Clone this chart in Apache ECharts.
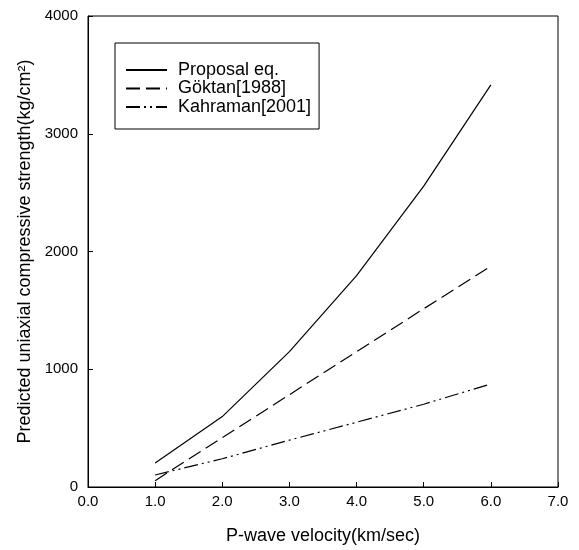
<!DOCTYPE html>
<html>
<head>
<meta charset="utf-8">
<script src="https://cdn.jsdelivr.net/npm/echarts@6/dist/echarts.min.js"></script>
<style>
  html, body { margin: 0; padding: 0; background: #fff; }
  #chart { width: 579px; height: 550px; }
</style>
</head>
<body>
<div id="chart"></div>
<script>
// P-wave velocity (km/sec)
const velocity = [1.0, 2.0, 3.0, 4.0, 5.0, 6.0];
// predicted UCS (kg/cm2)
const proposal = [203, 598, 1150, 1795, 2555, 3415];
const goktan = [54, 419, 784, 1149, 1514, 1875];
const kahraman = [102, 240, 398, 550, 703, 875];

const seriesNames = ['Proposal eq.', 'Göktan[1988]', 'Kahraman[2001]'];
const dashes = ['solid', [14, 6], [14, 4, 2, 4, 2, 4]];

const font = '"Liberation Sans", Arial, sans-serif';

function pairs(ys) {
  return velocity.map((v, i) => [v, ys[i]]);
}

const chart = echarts.init(document.getElementById('chart'), null, { renderer: 'canvas' });

const option = {
  backgroundColor: '#fff',
  animation: false,
  textStyle: { fontFamily: font, color: '#000' },
  grid: {
    left: 88, right: 21, top: 16, bottom: 62,
    show: true, borderColor: '#000', borderWidth: 1,
    containLabel: false
  },
  legend: {
    left: 115, top: 43,
    orient: 'vertical',
    itemWidth: 41, itemHeight: 17, itemGap: 0.5,
    padding: [18, 8, 13, 10],
    borderColor: '#000', borderWidth: 1,
    backgroundColor: '#fff',
    // hide the marker circle, keep only the line sample
    itemStyle: { opacity: 0, color: 'rgba(0,0,0,0)', borderWidth: 0 },
    textStyle: { fontFamily: font, fontSize: 18, color: '#000', padding: [0, 0, 0, 6] },
    data: seriesNames
  },
  xAxis: {
    type: 'value',
    min: 0, max: 7, interval: 1,
    name: 'P-wave velocity(km/sec)',
    nameLocation: 'middle',
    nameGap: 40,
    nameTextStyle: { fontFamily: font, fontSize: 18, color: '#000' },
    axisLine: { lineStyle: { color: '#000', width: 1 } },
    axisTick: { inside: true, length: 5, lineStyle: { color: '#000' } },
    axisLabel: { fontFamily: font, fontSize: 15, color: '#000', margin: 7,
      formatter: v => v.toFixed(1) },
    splitLine: { show: false }
  },
  yAxis: {
    type: 'value',
    min: 0, max: 4000, interval: 1000,
    name: 'Predicted uniaxial compressive strength(kg/cm²)',
    nameLocation: 'middle',
    nameGap: 51,
    nameTextStyle: { fontFamily: font, fontSize: 18, color: '#000' },
    axisLine: { lineStyle: { color: '#000', width: 1 } },
    axisTick: { inside: true, length: 5, lineStyle: { color: '#000' } },
    axisLabel: { fontFamily: font, fontSize: 15, color: '#000', margin: 10,
      formatter: v => String(v) },
    splitLine: { show: false }
  },
  series: [proposal, goktan, kahraman].map((ys, i) => ({
    name: seriesNames[i],
    type: 'line',
    data: pairs(ys),
    symbol: 'none',
    color: '#000',
    lineStyle: { color: '#000', width: 1.2, type: dashes[i] }
  }))
};

chart.setOption(option);
</script>
</body>
</html>
